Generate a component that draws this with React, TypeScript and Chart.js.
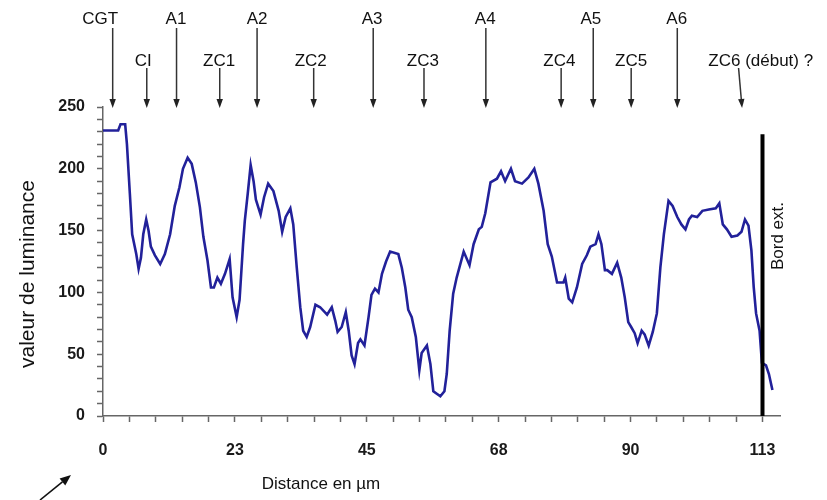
import React, { useEffect, useRef } from "react";
import { Chart, registerables } from "chart.js";

Chart.register(...registerables);

// Distance (µm) and luminance values read from the profile
const distance = [
  0, 2.6, 3.0, 3.8, 4.1, 4.6, 5.0, 5.7, 6.1, 6.5, 6.9, 7.4, 7.8, 8.2, 8.9, 9.8, 10.6, 11.5, 12.3, 13.1,
  13.7, 14.5, 15.2, 15.9, 16.6, 17.2, 17.9, 18.5, 19.0, 19.6, 20.2, 20.9, 21.7, 22.2, 22.9, 23.4, 24.0, 24.3, 24.8, 25.3,
  25.8, 26.2, 27.0, 27.6, 28.3, 29.2, 30.1, 30.7, 31.3, 32.1, 32.6, 33.2, 33.8, 34.3, 34.9, 35.5, 36.4, 37.2, 38.4, 39.2,
  39.8, 40.2, 40.9, 41.6, 42.1, 42.6, 43.1, 43.7, 44.1, 44.8, 45.5, 46.0, 46.6, 47.2, 47.8, 48.5, 49.2, 50.6, 51.2, 51.8,
  52.3, 52.9, 53.6, 54.2, 54.6, 55.5, 56.1, 56.6, 57.8, 58.5, 58.9, 59.4, 60.0, 60.6, 61.8, 62.8, 63.5, 64.4, 64.9, 65.5,
  66.4, 67.5, 68.2, 68.9, 69.9, 70.6, 71.8, 72.9, 73.9, 74.6, 75.5, 76.2, 76.9, 77.8, 78.9, 79.2, 79.8, 80.4, 81.2, 82.1,
  82.9, 83.5, 84.4, 84.9, 85.4, 86.0, 86.4, 87.2, 88.1, 88.8, 89.4, 90.0, 90.5, 91.1, 91.6, 92.3, 92.8, 93.5, 94.2, 94.9,
  95.5, 96.1, 96.9, 97.6, 98.4, 99.1, 99.8, 100.4, 100.9, 101.8, 102.7, 103.8, 105.0, 105.6, 106.2, 106.9, 107.7, 108.7, 109.4, 110.0,
  110.6, 111.1, 111.5, 111.9, 112.5, 112.9, 113.6, 114.1, 114.7,
];
const luminance = [
  231, 231, 236, 236, 220, 180, 147, 131, 119, 128, 147, 159, 150, 137, 130, 123, 131, 147, 170, 185,
  200, 209, 204, 189, 169, 145, 126, 104, 104, 112, 107, 115, 127, 96, 80, 94, 139, 158, 180, 203,
  190, 175, 163, 177, 188, 182, 166, 149, 161, 168, 155, 120, 88, 69, 64, 72, 90, 88, 82, 88,
  77, 68, 72, 84, 69, 49, 42, 59, 62, 57, 80, 98, 103, 100, 115, 125, 133, 131, 120, 104,
  86, 80, 64, 37, 51, 57, 42, 20, 16, 20, 34, 69, 99, 112, 133, 122, 139, 151, 153, 164,
  189, 192, 198, 190, 200, 190, 188, 193, 200, 188, 166, 139, 129, 108, 108, 112, 95, 92, 104, 123,
  130, 137, 139, 147, 139, 118, 118, 115, 124, 112, 96, 76, 72, 67, 59, 69, 66, 57, 68, 83,
  120, 147, 174, 170, 161, 155, 151, 159, 162, 161, 166, 167, 168, 172, 155, 151, 145, 146, 149, 159,
  154, 134, 104, 83, 69, 43, 41, 34, 21,
];

// X axis: minor step and labels of the major ticks
const xMinorStep = 4.52;
const xTickLabels = ["0", "23", "45", "68", "90", "113"];
const yTickLabels = ["0", "50", "100", "150", "200", "250"];

// Top annotations
const annotLabels = ["CGT", "CI", "A1", "ZC1", "A2", "ZC2", "A3", "ZC3", "A4", "ZC4", "A5", "ZC5", "A6", "ZC6 (début) ?"];
const annotArrowX = [1.66, 7.5, 12.6, 20.0, 26.4, 36.1, 46.3, 55.0, 65.6, 78.5, 84.0, 90.5, 98.4, 109.5];
const annotArrowStartX = [1.66, 7.5, 12.6, 20.0, 26.4, 36.1, 46.3, 55.0, 65.6, 78.5, 84.0, 90.5, 98.4, 108.9];
const annotLabelX = [-0.5, 6.9, 12.5, 19.9, 26.4, 35.6, 46.1, 54.8, 65.5, 78.2, 83.6, 90.5, 98.3, 112.7];
const annotRow = [0, 1, 0, 1, 0, 1, 0, 1, 0, 1, 0, 1, 0, 1];

// Outer edge marker
const edgeX = 113;
const edgeTop = 228;
const edgeLabel = "Bord ext.";

const FONT = "'Liberation Sans', Arial, sans-serif";

function drawArrow(ctx: CanvasRenderingContext2D, x1: number, y1: number, x2: number, y2: number, head: number, halfW: number) {
  const ang = Math.atan2(y2 - y1, x2 - x1);
  const bx = x2 - head * Math.cos(ang);
  const by = y2 - head * Math.sin(ang);
  ctx.beginPath();
  ctx.moveTo(x1, y1);
  ctx.lineTo(bx, by);
  ctx.stroke();
  ctx.beginPath();
  ctx.moveTo(x2, y2);
  ctx.lineTo(bx + halfW * Math.sin(ang), by - halfW * Math.cos(ang));
  ctx.lineTo(bx - halfW * Math.sin(ang), by + halfW * Math.cos(ang));
  ctx.closePath();
  ctx.fill();
}

const annotationPlugin = {
  id: "annotations",
  afterDatasetsDraw(chart: any) {
    const { ctx, scales } = chart;
    const xs = scales.x;
    const ys = scales.y;
    ctx.save();
    // Edge line
    ctx.strokeStyle = "#000";
    ctx.lineWidth = 4;
    ctx.beginPath();
    ctx.moveTo(xs.getPixelForValue(edgeX), ys.getPixelForValue(0));
    ctx.lineTo(xs.getPixelForValue(edgeX), ys.getPixelForValue(edgeTop));
    ctx.stroke();
    // Edge label
    ctx.save();
    ctx.translate(xs.getPixelForValue(edgeX) + 16, 236);
    ctx.rotate(-Math.PI / 2);
    ctx.fillStyle = "#111";
    ctx.font = `17px ${FONT}`;
    ctx.textAlign = "center";
    ctx.textBaseline = "middle";
    ctx.fillText(edgeLabel, 0, 0);
    ctx.restore();

    // Top labels and arrows
    ctx.font = `17px ${FONT}`;
    ctx.textAlign = "center";
    ctx.textBaseline = "middle";
    ctx.strokeStyle = "#333";
    ctx.lineWidth = 1.5;
    annotLabels.forEach((lab, i) => {
      const row = annotRow[i];
      const ly = row === 0 ? 19 : 61;
      const sy = row === 0 ? 28 : 68;
      ctx.fillStyle = "#111";
      ctx.fillText(lab, xs.getPixelForValue(annotLabelX[i]), ly);
      ctx.fillStyle = "#222";
      drawArrow(ctx, xs.getPixelForValue(annotArrowStartX[i]), sy, xs.getPixelForValue(annotArrowX[i]), 108, 9, 3.2);
    });

    // Y axis title
    ctx.save();
    ctx.translate(28, 274);
    ctx.rotate(-Math.PI / 2);
    ctx.fillStyle = "#111";
    ctx.font = `21px ${FONT}`;
    ctx.textAlign = "center";
    ctx.textBaseline = "middle";
    ctx.fillText("valeur de luminance", 0, 0);
    ctx.restore();

    // X axis title
    ctx.fillStyle = "#111";
    ctx.font = `17px ${FONT}`;
    ctx.textAlign = "center";
    ctx.textBaseline = "middle";
    ctx.fillText("Distance en µm", 321, 484);

    // Bottom-left arrow
    ctx.strokeStyle = "#111";
    ctx.fillStyle = "#111";
    ctx.lineWidth = 1.6;
    drawArrow(ctx, 40, 500, 71, 475, 11, 4.5);
    ctx.restore();
  },
};

export default function App() {
  const ref = useRef<HTMLCanvasElement | null>(null);
  useEffect(() => {
    document.body.style.margin = "0";
    const canvas = ref.current;
    if (!canvas) return;
    const points = distance.map((d, i) => ({ x: d, y: luminance[i] }));
    const chart = new Chart(canvas, {
      type: "line",
      data: {
        datasets: [
          {
            data: points,
            borderColor: "#22219a",
            borderWidth: 2.6,
            pointRadius: 0,
            tension: 0,
            fill: false,
          },
        ],
      },
      options: {
        animation: false,
        responsive: false,
        layout: { padding: { top: 107, right: 47, left: 0, bottom: 0 } },
        plugins: { legend: { display: false }, tooltip: { enabled: false } },
        scales: {
          x: {
            type: "linear",
            min: 0,
            max: 116,
            afterBuildTicks: (s: any) => {
              const t = [];
              for (let i = 0; i * xMinorStep <= s.max + 1e-6; i++) t.push({ value: +(i * xMinorStep).toFixed(2) });
              s.ticks = t;
            },
            afterFit: (s: any) => {
              s.height = 84;
            },
            ticks: {
              autoSkip: false,
              maxRotation: 0,
              padding: 19,
              color: "#1a1a1a",
              font: { size: 16, weight: "bold", family: FONT },
              callback: (_v: any, i: number) => (i % 5 === 0 ? xTickLabels[i / 5] ?? "" : ""),
            },
            grid: { drawOnChartArea: false, tickLength: 6, tickColor: "#666", tickWidth: 1.5 },
            border: { color: "#666", width: 1.5 },
          },
          y: {
            min: 0,
            max: 250,
            afterFit: (s: any) => {
              s.width = 103;
            },
            ticks: {
              stepSize: 10,
              autoSkip: false,
              padding: 12,
              color: "#1a1a1a",
              font: { size: 16, weight: "bold", family: FONT },
              callback: (v: any) => (v % 50 === 0 ? yTickLabels[v / 50] : ""),
            },
            grid: { drawOnChartArea: false, tickLength: 6, tickColor: "#666", tickWidth: 1.5 },
            border: { color: "#666", width: 1.5 },
          },
        },
      },
      plugins: [annotationPlugin],
    });
    return () => chart.destroy();
  }, []);
  return (
    <div style={{ width: 827, height: 500, background: "#fff" }}>
      <canvas ref={ref} width={827} height={500} style={{ display: "block" }} />
    </div>
  );
}
